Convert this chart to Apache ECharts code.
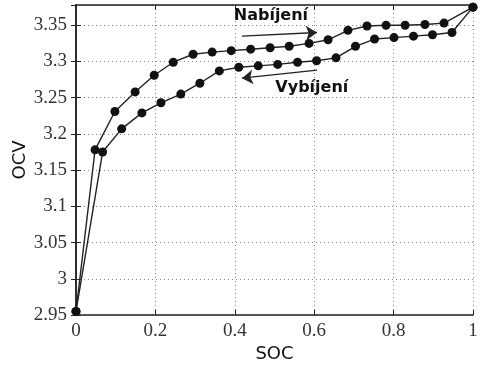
<!DOCTYPE html>
<html>
<head>
<meta charset="utf-8">
<script src="https://cdn.jsdelivr.net/npm/echarts@6/dist/echarts.min.js"></script>
<style>
  html, body { margin: 0; padding: 0; background: #fff; }
  #chart { width: 480px; height: 376px; }
</style>
</head>
<body>
<div id="chart"></div>
<script>
// nabíjení (charging) - horní křivka
const chargeSoc = [0, 0.048, 0.098, 0.149, 0.197, 0.245, 0.295, 0.343, 0.391, 0.44, 0.489,
  0.537, 0.587, 0.635, 0.685, 0.733, 0.781, 0.829, 0.879, 0.927, 1]
const chargeOcv = [2.955, 3.178, 3.231, 3.258, 3.281, 3.299, 3.310, 3.313, 3.315, 3.317, 3.319,
  3.321, 3.325, 3.330, 3.343, 3.349, 3.350, 3.350, 3.351, 3.353, 3.375]

// vybíjení (discharging) - dolní křivka
const dischargeSoc = [0, 0.067, 0.115, 0.166, 0.214, 0.264, 0.312, 0.361, 0.410, 0.459, 0.508,
  0.558, 0.606, 0.655, 0.704, 0.752, 0.801, 0.850, 0.898, 0.947, 1]
const dischargeOcv = [2.955, 3.175, 3.207, 3.229, 3.243, 3.255, 3.270, 3.287, 3.292, 3.294, 3.296,
  3.299, 3.301, 3.305, 3.321, 3.331, 3.333, 3.335, 3.337, 3.340, 3.375]

const xTicks = [0, 0.2, 0.4, 0.6, 0.8, 1]

// popisky a šipky
const labels = [
  { name: 'Nabíjení', coord: [0.491, 3.363] },
  { name: 'Vybíjení', coord: [0.594, 3.263] }
]
const arrows = [
  [[0.418, 3.335], [0.607, 3.340]],
  [[0.607, 3.288], [0.418, 3.277]]
]

const chart = echarts.init(document.getElementById('chart'))

const pair = (xs, ys) => xs.map((x, i) => [x, ys[i]])
const fmt = v => String(Math.round(v * 100) / 100)

const serif = '"Liberation Serif", "DejaVu Serif", "Times New Roman", serif'

const lineSeries = (name, xs, ys) => ({
  name,
  type: 'line',
  data: pair(xs, ys),
  symbol: 'circle',
  symbolSize: 9,
  itemStyle: { color: '#111' },
  lineStyle: { color: '#222', width: 1.4 },
  z: 3
})

const option = {
  animation: false,
  textStyle: { fontFamily: serif },
  grid: { left: 76, right: 7, top: 5, bottom: 61, show: false, containLabel: false, outerBoundsMode: 'none' },
  xAxis: [
    {
      type: 'value',
      min: 0,
      max: 1,
      interval: 0.2,
      name: 'SOC',
      nameLocation: 'middle',
      nameGap: 30,
      nameMoveOverlap: false,
      nameTextStyle: { fontFamily: 'DejaVu Sans', fontSize: 18, color: '#111' },
      axisLine: { show: true, lineStyle: { color: '#222', width: 1.5 } },
      axisTick: { show: true, inside: true, length: 5, lineStyle: { color: '#222' } },
      axisLabel: {
        fontFamily: serif, fontSize: 19, color: '#333', margin: 7,
        formatter: v => xTicks.includes(Math.round(v * 10) / 10) ? fmt(v) : ''
      },
      splitLine: { show: true, lineStyle: { type: [1, 3], color: '#888' } }
    },
    {
      type: 'value',
      position: 'top',
      min: 0,
      max: 1,
      interval: 0.2,
      axisLine: { show: true, lineStyle: { color: '#222', width: 1.5 } },
      axisTick: { show: true, inside: true, length: 5, lineStyle: { color: '#222' } },
      axisLabel: { show: false },
      splitLine: { show: false }
    }
  ],
  yAxis: [
    {
      type: 'value',
      min: 2.95,
      max: 3.378,
      interval: 0.05,
      name: 'OCV',
      nameLocation: 'middle',
      nameGap: 47,
      nameMoveOverlap: false,
      nameTextStyle: { fontFamily: 'DejaVu Sans', fontSize: 18, color: '#111' },
      axisLine: { show: true, lineStyle: { color: '#222', width: 1.5 } },
      axisTick: { show: true, inside: true, length: 5, lineStyle: { color: '#222' } },
      axisLabel: { fontFamily: serif, fontSize: 19, color: '#333', margin: 9, showMaxLabel: false, formatter: fmt },
      splitLine: { show: true, lineStyle: { type: [1, 3], color: '#888' } }
    },
    {
      type: 'value',
      position: 'right',
      min: 2.95,
      max: 3.378,
      interval: 0.05,
      axisLine: { show: true, lineStyle: { color: '#222', width: 1.5 } },
      axisTick: { show: true, inside: true, length: 5, lineStyle: { color: '#222' } },
      axisLabel: { show: false },
      splitLine: { show: false }
    }
  ],
  series: [
    lineSeries('Nabíjení', chargeSoc, chargeOcv),
    lineSeries('Vybíjení', dischargeSoc, dischargeOcv),
    {
      name: 'popisky',
      type: 'line',
      data: [],
      silent: true,
      markLine: {
        silent: true,
        symbol: ['none', 'arrow'],
        symbolSize: 11,
        label: { show: false },
        lineStyle: { color: '#222', width: 1.3, type: 'solid' },
        data: arrows.map(a => [{ coord: a[0] }, { coord: a[1] }])
      },
      markPoint: {
        silent: true,
        symbol: 'circle',
        symbolSize: 1,
        itemStyle: { color: 'rgba(0,0,0,0)' },
        label: {
          show: true,
          position: 'inside',
          formatter: p => p.name,
          fontFamily: 'DejaVu Sans',
          fontWeight: 'bold',
          fontSize: 16,
          color: '#111'
        },
        data: labels.map(l => ({ name: l.name, coord: l.coord }))
      }
    }
  ]
}

chart.setOption(option)
</script>
</body>
</html>
